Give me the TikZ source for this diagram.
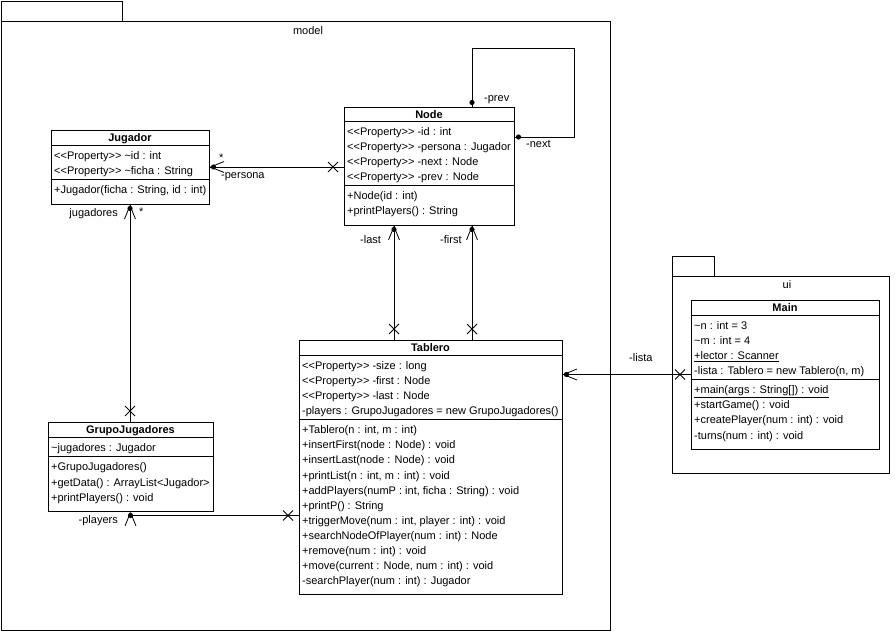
\documentclass[tikz,border=0pt]{standalone}
\usepackage{fontspec}
\setmainfont{Liberation Sans}
\newcommand{\umlProp}{<{}<Property>{}>}
\newcommand{\umlTilde}{\textasciitilde}
\tikzset{
  navend/.pic={\draw[line width=0.8pt] (1.5,0) -- (15,5.5) (1.5,0) -- (15,-5.5); \fill (4.5,0) circle (2.6pt);},
  ownend/.pic={\fill (4.5,0) circle (2.6pt);},
  noend/.pic={\draw[line width=0.8pt] (6,-5) -- (16,5) (6,5) -- (16,-5);}
}

\begin{document}
\begin{tikzpicture}[x=1pt,y=-1pt, font=\fontsize{11}{13}\selectfont,
  pkgbox/.style={draw, line width=0.8pt, inner sep=0pt, outer sep=0pt},
  classbox/.style={draw, fill=white, line width=0.8pt, inner sep=0pt, outer sep=0pt},
  classtitle/.style={anchor=base, inner sep=0pt, font=\fontsize{11}{13}\selectfont\bfseries},
  row/.style={anchor=base west, inner sep=0pt},
  endlabel/.style={anchor=base west, inner sep=0pt},
  link/.style={line width=0.8pt}]
\fill[white] (0,0) rectangle (895,636);
% packages
\node[pkgbox, minimum width=121, minimum height=20] (modelTab) at (61.5,11) {};
\node[pkgbox, minimum width=609, minimum height=609] (modelPkg) at (305.5,325.5) {};
\node[anchor=base, inner sep=0pt] (modelName) at (308,35) {model};
\node[pkgbox, minimum width=42, minimum height=20] (uiTab) at (693,266) {};
\node[pkgbox, minimum width=217, minimum height=197] (uiPkg) at (780.5,374.5) {};
\node[anchor=base, inner sep=0pt] (uiName) at (787,289) {ui};
% Jugador
\node[classbox, minimum width=158, minimum height=74] (jugadorBox) at (130,167) {};
\node[classtitle] (jugadorT) at (130,142) {Jugador};
\draw (51,145) -- (209,145);
\node[row] (jugadorA1) at (54,160) {\umlProp\ \umlTilde id : int};
\node[row] (jugadorA2) at (54,175) {\umlProp\ \umlTilde ficha : String};
\draw (51,179) -- (209,179);
\node[row] (jugadorM1) at (54,194) {+Jugador(ficha : String, id : int)};
% Node
\node[classbox, minimum width=170, minimum height=118] (nodeBox) at (429,166) {};
\node[classtitle] (nodeT) at (429,119) {Node};
\draw (344,121) -- (514,121);
\node[row] (nodeA1) at (347,136) {\umlProp\ -id : int};
\node[row] (nodeA2) at (347,151) {\umlProp\ -persona : Jugador};
\node[row] (nodeA3) at (347,166) {\umlProp\ -next : Node};
\node[row] (nodeA4) at (347,181) {\umlProp\ -prev : Node};
\draw (344,185) -- (514,185);
\node[row] (nodeM1) at (347,200) {+Node(id : int)};
\node[row] (nodeM2) at (347,215) {+printPlayers() : String};
% GrupoJugadores
\node[classbox, minimum width=165, minimum height=89] (grupoBox) at (130.5,466.5) {};
\node[classtitle] (grupoT) at (130.5,434) {GrupoJugadores};
\draw (48,437) -- (213,437);
\node[row] (grupoA1) at (51,452) {\umlTilde jugadores : Jugador};
\draw (48,456) -- (213,456);
\node[row] (grupoM1) at (51,471) {+GrupoJugadores()};
\node[row] (grupoM2) at (51,486) {+getData() : ArrayList<Jugador>};
\node[row] (grupoM3) at (51,501) {+printPlayers() : void};
% Tablero
\node[classbox, minimum width=263, minimum height=254] (tableroBox) at (430.5,467) {};
\node[classtitle] (tableroT) at (430.5,352) {Tablero};
\draw (299,355) -- (562,355);
\node[row] (tableroA1) at (302,370) {\umlProp\ -size : long};
\node[row] (tableroA2) at (302,385) {\umlProp\ -first : Node};
\node[row] (tableroA3) at (302,400) {\umlProp\ -last : Node};
\node[row] (tableroA4) at (302,415) {-players : GrupoJugadores = new GrupoJugadores()};
\draw (299,419) -- (562,419);
\node[row] (tableroM1) at (302,434) {+Tablero(n : int, m : int)};
\node[row] (tableroM2) at (302,449) {+insertFirst(node : Node) : void};
\node[row] (tableroM3) at (302,464) {+insertLast(node : Node) : void};
\node[row] (tableroM4) at (302,479) {+printList(n : int, m : int) : void};
\node[row] (tableroM5) at (302,494) {+addPlayers(numP : int, ficha : String) : void};
\node[row] (tableroM6) at (302,509) {+printP() : String};
\node[row] (tableroM7) at (302,524) {+triggerMove(num : int, player : int) : void};
\node[row] (tableroM8) at (302,539) {+searchNodeOfPlayer(num : int) : Node};
\node[row] (tableroM9) at (302,554) {+remove(num : int) : void};
\node[row] (tableroM10) at (302,569) {+move(current : Node, num : int) : void};
\node[row] (tableroM11) at (302,584) {-searchPlayer(num : int) : Jugador};
% Main
\node[classbox, minimum width=188, minimum height=149] (mainBox) at (785,374.5) {};
\node[classtitle] (mainT) at (785,312) {Main};
\draw (691,315) -- (879,315);
\node[row] (mainA1) at (694,330) {\umlTilde n : int = 3};
\node[row] (mainA2) at (694,345) {\umlTilde m : int = 4};
\node[row] (mainA3) at (694,360) {\underline{+lector : Scanner}};
\node[row] (mainA4) at (694,375) {-lista : Tablero = new Tablero(n, m)};
\draw (691,379) -- (879,379);
\node[row] (mainM1) at (694,394) {\underline{+main(args : String[]) : void}};
\node[row] (mainM2) at (694,409) {+startGame() : void};
\node[row] (mainM3) at (694,424) {+createPlayer(num : int) : void};
\node[row] (mainM4) at (694,439) {-turns(num : int) : void};
% associations
\draw[link] (jugadorBox.east) -- (jugadorBox.east -| nodeBox.west);
\pic at (jugadorBox.east) {navend};
\pic[rotate=180] at (jugadorBox.east -| nodeBox.west) {noend};
\node[endlabel] (personaStar) at (219,162) {*};
\node[endlabel] (personaL) at (221,179) {-persona};

\draw[link] (jugadorBox.south) -- (jugadorBox.south |- grupoBox.north);
\pic[rotate=-90] at (jugadorBox.south) {navend};
\pic[rotate=90] at (jugadorBox.south |- grupoBox.north) {noend};
\node[anchor=base east, inner sep=0pt] (jugadoresL) at (118,217) {jugadores};
\node[endlabel] (jugadoresStar) at (139,216) {*};

\coordinate (prevN) at ([xshift=43]nodeBox.north);
\coordinate (nextN) at ([yshift=29]nodeBox.east);
\draw[link] (prevN) -- ++(0,-59) -| ([xshift=60]nextN) -- (nextN);
\pic[rotate=90] at (prevN) {ownend};
\pic at (nextN) {ownend};
\node[endlabel] (prevL) at (484,102) {-prev};
\node[endlabel] (nextL) at (526,148) {-next};

\coordinate (lastN) at ([xshift=-35]nodeBox.south);
\coordinate (firstN) at ([xshift=43]nodeBox.south);
\draw[link] (lastN) -- (lastN |- tableroBox.north);
\pic[rotate=-90] at (lastN) {navend};
\pic[rotate=90] at (lastN |- tableroBox.north) {noend};
\draw[link] (firstN) -- (firstN |- tableroBox.north);
\pic[rotate=-90] at (firstN) {navend};
\pic[rotate=90] at (firstN |- tableroBox.north) {noend};
\node[endlabel] (lastL) at (360,244) {-last};
\node[endlabel] (firstL) at (440,244) {-first};

\coordinate (playersG) at ([yshift=-4.5]grupoBox.south);
\draw[link] (tableroBox.west |- playersG) -- (playersG);
\pic[rotate=-90] at (grupoBox.south) {navend};
\pic[rotate=180] at (tableroBox.west |- playersG) {noend};
\node[anchor=base east, inner sep=0pt] (playersL) at (118,523) {-players};

\draw[link] (mainBox.west) -- (mainBox.west -| tableroBox.east);
\pic at (mainBox.west -| tableroBox.east) {navend};
\pic[rotate=180] at (mainBox.west) {noend};
\node[endlabel] (listaL) at (629,362) {-lista};
\end{tikzpicture}
\end{document}
